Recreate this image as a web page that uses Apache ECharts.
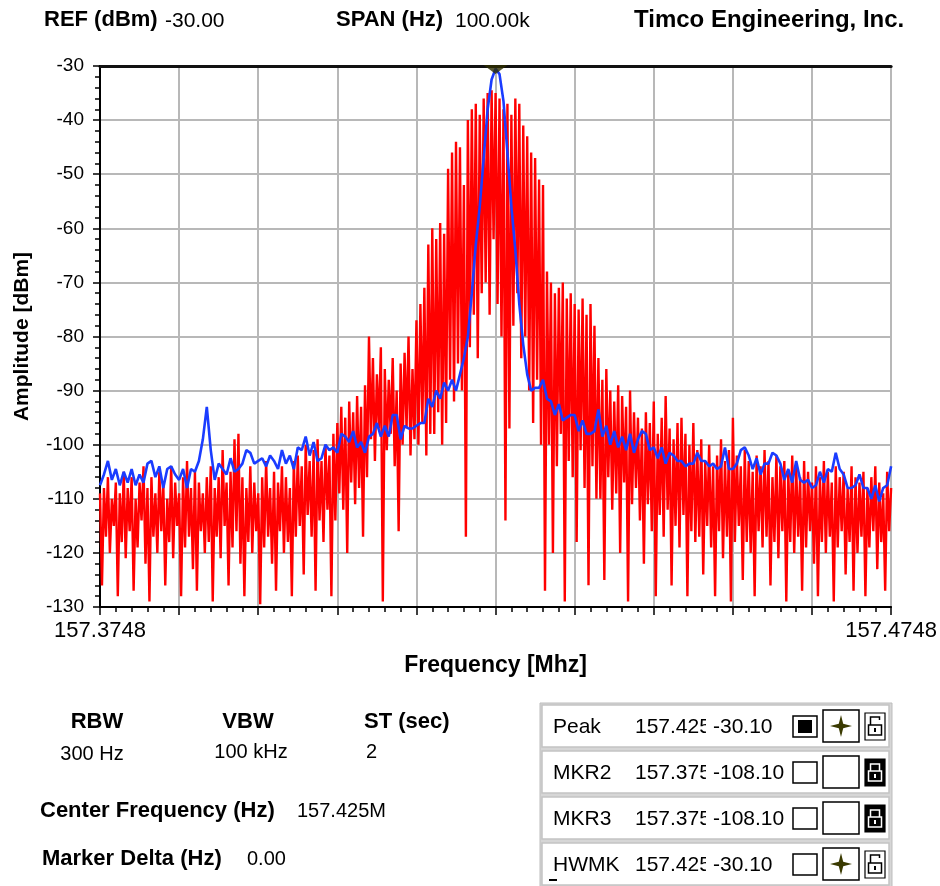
<!DOCTYPE html>
<html><head><meta charset="utf-8">
<script src="https://cdn.jsdelivr.net/npm/echarts@6/dist/echarts.min.js"></script>
<style>html,body{margin:0;padding:0;background:#fff;}#chart{width:940px;height:886px;}</style>
</head><body><div id="chart"></div>
<script>
// ---- data ----
const startFreqLabel = '157.3748';
const stopFreqLabel = '157.4748';
const spanKHz = 100;            // x axis runs 0..100 kHz from start frequency
const redStepKHz = 0.25;        // sweep grid of the red trace
const blueStepKHz = 0.5;        // sweep grid of the blue trace
const yMin = -130, yMax = -30;

const redTrace = [
-109,-126,-108,-117,-106,-120,-110,-115,-107,-128,-109,-118,
-105,-121,-108,-116,-106,-127,-110,-119,-107,-114,-104,-122,
-108,-129,-106,-117,-109,-120,-105,-116,-107,-126,-110,-118,
-104,-121,-107,-115,-109,-128,-106,-119,-103,-117,-108,-123,
-105,-127,-107,-116,-109,-120,-106,-118,-104,-129,-108,-117,
-106,-121,-101,-115,-107,-126,-105,-119,-99,-116,-98,-122,
-106,-128,-108,-118,-104,-120,-107,-116,-109,-129.5,-106,-119,
-103,-117,-108,-122,-105,-127,-107,-116,-104,-120,-106,-118,
-108,-128,-103,-117,
-102,-115,-104,-124,-100,-113,-103,-117,-101,-127,-99,-114,-103,-118,-100,-112,-102,-128,-98,-114,
-96,-109,-93,-112,-95,-120,-92,-107,-94,-111,-91,-108,-93,-117,-89,-106,
-80,-99,-84,-103,-87,-97,-82,-129,-86,-101,-88,-98,-84,-104,-90,-116,-85,-100,-83,-97,-80,-102,-86,-99,
-77,-100,-74,-96,-71,-102,-63,-98,
-60,-98,-62,-94,-59,-100,-61,-96,
-49,-88,-46,-92,-44,-85,-45,-90,-52,-117,
-40,-82,-38,-76,-37,-84,-39,-72,
-36,-70,-35,-76,-34.5,-62,-35,-74,-36,-80,-38,-114,
-37,-97,-39,-78,-36,-72,-37,-84,-41,-80,
-43,-90,-46,-96,-47,-88,
-51,-100,-52,-127,
-68,-100,-70,-120,-72,-104,-71,-98,-70,-129,-73,-103,-72,-106,-74,-118,-75,-101,-73,-108,-76,-126,-74,-104,-78,-110,
-84,-110,-88,-125,-86,-106,-90,-112,-92,-109,-89,-120,-91,-107,-93,-129,-90,-111,-94,-108,
-95,-114,-97,-122,-94,-111,-96,-116,-92,-128,-98,-113,-95,-117,-91,-112,-97,-126,-99,-115,-96,-119,-95,-113,-98,-128,-100,-116,-96,-118,
-101,-117,-99,-124,-103,-115,-100,-119,-104,-128,-102,-116,-99,-121,-103,-117,-101,-129,-95,-118,
-102,-115,-104,-125,-101,-118,-103,-120,-105,-128,-102,-116,-104,-119,-101,-117,-103,-126,-106,-118,
-102,-121,-104,-116,-103,-129,-105,-118,-102,-120,-104,-117,-106,-127,-103,-119,-105,-116,-107,-122,
-104,-128,-106,-118,-103,-120,-105,-117,-107,-129,-104,-119,-106,-116,-105,-124,-108,-118,-104,-127,
-106,-120,-107,-117,-105,-128,-108,-119,-106,-116,-104,-123,-107,-118,-109,-127,-105,-116,
-108
];

const blueTrace = [
-107.5,-105.5,-103,-106.5,-104.5,-107.5,-105,-107,-104.5,-107.5,-105.5,-107,-103.5,-103,-106,-104,-108,-104.5,-104,-105.5,
-106.5,-104.5,-108,-104.5,-105,-103,-99,-93,-101,-106.5,-103.5,-104.5,-105.5,-102.5,-105,-104.5,-103.5,-101,-101.5,-103.5,
-103,-102.5,-104,-102,-103,-104.5,-101,-103.5,-102,-104.5,-100.5,-101,-98.5,-102,-99.5,-103,-102.5,-100,-101,-100.5,
-101.5,-98,-98.5,-99.5,-97.5,-100.5,-99.5,-101.5,-98.5,-98,-96,-98.5,-96.5,-98.5,-94.5,-94.5,-99,-96.5,-97,-97,
-96.5,-96,-96,-91.5,-93,-90,-91.5,-88.5,-90,-88,-90,-87,-84,-80,-72,-63,-56,-47,-38,-32.5,
-30.5,-31.5,-36.5,-46,-56,-64,-74,-81.5,-87,-90,-89.5,-89.5,-88,-91.5,-92,-94.5,-92.5,-95.5,-95,-94.5,
-94.5,-97.5,-95.5,-98,-98,-97.5,-93.5,-98.5,-96.5,-100,-97.5,-100.5,-98.5,-101,-98,-101.5,-99,-97.5,-98,-101,
-100.5,-102.5,-100.5,-103.5,-101.5,-102,-103,-103,-104,-103.5,-103.5,-101.5,-103,-103,-104,-103.5,-104.5,-104,-100.5,-104.5,
-104.5,-103.5,-101,-100.5,-102,-104.5,-102.5,-105.5,-103.5,-103.5,-101.5,-102,-103.5,-106.5,-104.5,-107,-103,-106.5,-107,-106.5,
-108,-107.5,-105,-107,-104.5,-105,-101.5,-104.5,-105.5,-108,-108,-107.5,-105.5,-108,-108,-110,-107.5,-110.5,-108,-107.5,
-104
];

const peakPoint = [50, -30.1];

const markerNames = ['Peak', 'MKR2', 'MKR3', 'HWMK'];
const markerFreqs = ['157.425', '157.375', '157.375', '157.425'];
const markerAmps = ['-30.10', '-108.10', '-108.10', '-30.10'];
const markerChecked = [true, false, false, false];
const markerStar = [true, false, false, true];
const markerLocked = [false, true, true, false];

// ---- chart ----
const FONT = "'Liberation Sans', Arial, Helvetica, sans-serif";
const chart = echarts.init(document.getElementById('chart'), null, {renderer: 'canvas'});

function txt(text, x, y, size, bold, align) {
  return {
    type: 'text', x: x, y: y, silent: true, z: 100,
    style: {
      text: text, fill: '#000',
      font: (bold ? 'bold ' : '') + size + 'px ' + FONT,
      align: align || 'left', verticalAlign: 'middle',
      textAlign: align || 'left', textVerticalAlign: 'middle'
    }
  };
}

const graphics = [];
// header
graphics.push(txt('REF (dBm)', 44, 20, 22, true));
graphics.push(txt('-30.00', 165, 21, 21, false));
graphics.push(txt('SPAN (Hz)', 336, 20, 22, true));
graphics.push(txt('100.00k', 455, 21, 21, false));
graphics.push(txt('Timco Engineering, Inc.', 634, 20, 24, true));
// settings block
graphics.push(txt('RBW', 97, 722, 22, true, 'center'));
graphics.push(txt('300 Hz', 92, 754, 20, false, 'center'));
graphics.push(txt('VBW', 248, 722, 22, true, 'center'));
graphics.push(txt('100 kHz', 251, 752, 20, false, 'center'));
graphics.push(txt('ST (sec)', 364, 722, 22, true));
graphics.push(txt('2', 366, 752, 20, false));
graphics.push(txt('Center Frequency (Hz)', 40, 811, 22, true));
graphics.push(txt('157.425M', 297, 811, 20, false));
graphics.push(txt('Marker Delta (Hz)', 42, 859, 22, true));
graphics.push(txt('0.00', 247, 859, 20, false));

// marker table
graphics.push({type: 'rect', z: 90, silent: true, shape: {x: 540, y: 703, width: 352, height: 190},
  style: {fill: '#d6d6d6', stroke: '#bdbdbd', lineWidth: 1}});
const rowTops = [705, 751, 797, 843];
for (let r = 0; r < markerNames.length; r++) {
  const top = rowTops[r], cy = top + 21;
  graphics.push({type: 'rect', z: 91, silent: true, shape: {x: 542, y: top, width: 347, height: 42},
    style: {fill: '#fff', stroke: '#c4c4c4', lineWidth: 1.5}});
  graphics.push(txt(markerNames[r], 553, cy + 1, 21, false));
  graphics.push(txt(markerFreqs[r], 635, cy + 1, 21, false));
  graphics.push({type: 'rect', z: 101, silent: true, shape: {x: 706, y: top + 6, width: 7, height: 32}, style: {fill: '#fff'}});
  graphics.push(txt(markerAmps[r], 713, cy + 1, 21, false));
  // check box
  graphics.push({type: 'rect', z: 102, silent: true, shape: {x: 793, y: cy - 10, width: 24, height: 21},
    style: {fill: '#fff', stroke: '#000', lineWidth: 1.5}});
  if (markerChecked[r]) {
    graphics.push({type: 'rect', z: 103, silent: true, shape: {x: 798, y: cy - 6, width: 14, height: 13}, style: {fill: '#000'}});
  }
  // star box
  graphics.push({type: 'rect', z: 102, silent: true, shape: {x: 823, y: cy - 16, width: 36, height: 32},
    style: {fill: '#fff', stroke: '#000', lineWidth: 1.5}});
  if (markerStar[r]) {
    const cx = 841;
    graphics.push({type: 'polygon', z: 103, silent: true, shape: {points: [
      [cx, cy - 11], [cx + 2.2, cy - 2.2], [cx + 11, cy], [cx + 2.2, cy + 2.2],
      [cx, cy + 11], [cx - 2.2, cy + 2.2], [cx - 11, cy], [cx - 2.2, cy - 2.2]]},
      style: {fill: '#3a3a00'}});
  }
  // lock box
  const locked = markerLocked[r];
  const fg = locked ? '#fff' : '#000';
  graphics.push({type: 'rect', z: 102, silent: true, shape: {x: 865, y: cy - 13, width: 20, height: 27},
    style: {fill: locked ? '#000' : '#fff', stroke: '#000', lineWidth: 1.2}});
  graphics.push({type: 'polyline', z: 103, silent: true, shape: {points: locked
      ? [[870.5, cy - 1], [870.5, cy - 8], [879.5, cy - 8], [879.5, cy - 1]]
      : [[870.5, cy - 1], [870.5, cy - 9], [879.5, cy - 9], [879.5, cy - 6]]},
    style: {stroke: fg, lineWidth: 1.5, fill: null}});
  graphics.push({type: 'rect', z: 103, silent: true, shape: {x: 868.5, y: cy - 1, width: 13, height: 10},
    style: {fill: 'none', stroke: fg, lineWidth: 1.5}});
  graphics.push({type: 'rect', z: 104, silent: true, shape: {x: 874, y: cy + 2, width: 2, height: 4},
    style: {fill: fg}});
}
graphics.push({type: 'rect', z: 104, silent: true, shape: {x: 549, y: 879, width: 8, height: 2}, style: {fill: '#000'}});

const option = {
  animation: false,
  backgroundColor: '#fff',
  grid: {left: 100, top: 66, width: 793, height: 541, containLabel: false},
  xAxis: [{
    type: 'value', min: 0, max: spanKHz, interval: 10,
    axisLine: {show: true, onZero: false, lineStyle: {color: '#000', width: 2}},
    axisTick: {show: true, length: 8, lineStyle: {color: '#000', width: 1.5}},
    minorTick: {show: true, splitNumber: 5, length: 5, lineStyle: {color: '#000', width: 1.5}},
    splitLine: {show: true, lineStyle: {color: '#b8b8b8', width: 2}},
    axisLabel: {
      show: true, color: '#000', fontSize: 22, fontFamily: FONT, margin: 13,
      showMinLabel: true, showMaxLabel: true,
      formatter: function (v) { return v === 0 ? startFreqLabel : (v === spanKHz ? stopFreqLabel : ''); }
    },
    name: 'Frequency [Mhz]', nameLocation: 'middle', nameGap: 47,
    nameTextStyle: {color: '#000', fontSize: 23, fontWeight: 'bold', fontFamily: FONT}
  }, {
    type: 'value', min: 0, max: spanKHz, position: 'top',
    axisLine: {show: true, onZero: false, lineStyle: {color: '#111', width: 3}},
    axisTick: {show: false}, axisLabel: {show: false}, splitLine: {show: false}
  }],
  yAxis: {
    type: 'value', min: yMin, max: yMax, interval: 10,
    axisLine: {show: true, onZero: false, lineStyle: {color: '#000', width: 2}},
    axisTick: {show: true, length: 7, lineStyle: {color: '#000', width: 1.5}},
    minorTick: {show: true, splitNumber: 5, length: 5, lineStyle: {color: '#000', width: 1.5}},
    splitLine: {show: true, lineStyle: {color: '#b8b8b8', width: 2}},
    axisLabel: {color: '#000', fontSize: 19, fontFamily: FONT, margin: 16},
    name: 'Amplitude [dBm]', nameLocation: 'middle', nameGap: 67, nameRotate: 90,
    nameTextStyle: {color: '#000', fontSize: 21, fontWeight: 'bold', fontFamily: FONT}
  },
  series: [{
    name: 'trace1', type: 'line', xAxisIndex: 0, symbol: 'none', showSymbol: false,
    sampling: null, smooth: false,
    lineStyle: {color: '#ff0000', width: 2.4}, itemStyle: {color: '#ff0000'},
    data: redTrace.map((v, i) => [i * redStepKHz, v]), z: 2
  }, {
    name: 'trace2', type: 'line', xAxisIndex: 0, symbol: 'none', showSymbol: false,
    smooth: false,
    lineStyle: {color: '#1a3cff', width: 2.6}, itemStyle: {color: '#1a3cff'},
    data: blueTrace.map((v, i) => [i * blueStepKHz, v]), z: 3
  }, {
    name: 'peak', type: 'scatter', xAxisIndex: 0, clip: false,
    symbol: 'triangle', symbolRotate: 180, symbolSize: [24, 9], symbolOffset: [0, 3],
    itemStyle: {color: '#2e2e00'}, data: [peakPoint], z: 5
  }],
  graphic: graphics
};
chart.setOption(option);
</script>
</body></html>
